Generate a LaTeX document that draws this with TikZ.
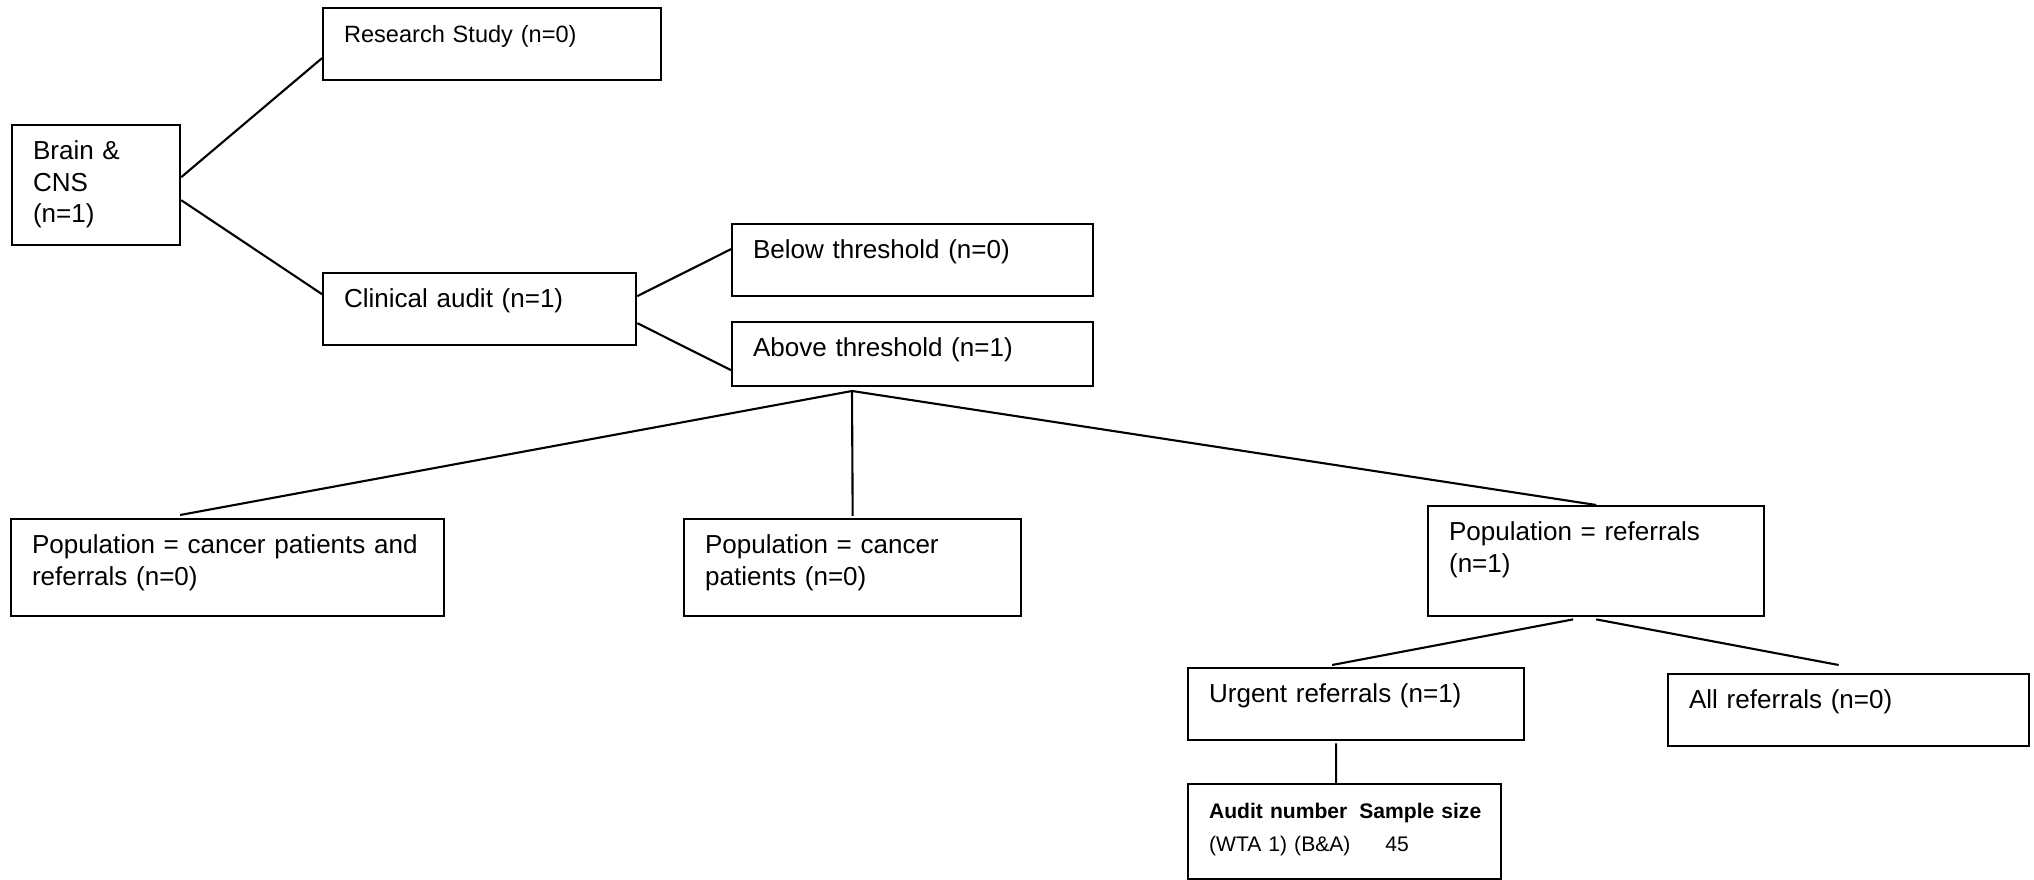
\documentclass[tikz,border=0pt]{standalone}
\usepackage{fontspec}
\setmainfont{Liberation Sans}
\usepackage{tikz}
\usetikzlibrary{positioning}

\begin{document}
\begin{tikzpicture}[x=0.01cm, y=-0.01cm,
	box/.style={draw, line width=0.6pt, anchor=north west, align=left, inner xsep=0.21cm, inner ysep=0.126cm, text height=0.22cm, font=\fontsize{7.4}{9}\selectfont},
	link/.style={line width=0.6pt}]
	\useasboundingbox (0,0) rectangle (2034,880);

	\node[box, text width=1.26cm, text depth=0.73cm] (brain) at (11,124) {Brain \&\\CNS\\(n=1)};
	\node[box, text width=2.96cm, text depth=0.25cm, font=\fontsize{6.7}{8.2}\selectfont] (research) at (322,7) {Research Study (n=0)};
	\node[box, text width=2.71cm, text depth=0.25cm] (clinical) at (322,272) {Clinical audit (n=1)};
	\node[box, text width=3.19cm, text depth=0.25cm] (below) at (731,223) {Below threshold (n=0)};
	\node[box, text width=3.19cm, text depth=0.17cm] (above) at (731,321) {Above threshold (n=1)};
	\node[box, text width=3.91cm, text depth=0.50cm] (popboth) at (10,518) {Population = cancer patients and\\referrals (n=0)};
	\node[box, text width=2.95cm, text depth=0.50cm] (popcancer) at (683,518) {Population = cancer\\patients (n=0)};
	\node[box, text width=2.94cm, text depth=0.63cm] (popref) at (1427,505) {Population = referrals\\(n=1)};
	\node[box, text width=2.94cm, text depth=0.25cm] (urgent) at (1187,667) {Urgent referrals (n=1)};
	\node[box, text width=3.19cm, text depth=0.25cm] (allref) at (1667,673) {All referrals (n=0)};
	\node[box, text width=2.71cm, text depth=0.48cm, font=\fontsize{6}{9.4}\selectfont] (audit) at (1187,783) {%
		\begin{tabular}[t]{@{}l@{\hspace{2.5pt}}l@{}}
			\textbf{Audit number} & \textbf{Sample size}\\
			(WTA 1) (B\&A) & \hspace{7.4pt}45
		\end{tabular}};

	\coordinate (split) at (852,391);

	\draw[link] ([yshift=0.08cm]brain.east) -- ([yshift=-0.14cm]research.west);
	\draw[link] ([yshift=-0.15cm]brain.east) -- ([yshift=0.15cm]clinical.west);
	\draw[link] ([yshift=0.13cm]clinical.east) -- ([yshift=0.11cm]below.west);
	\draw[link] ([yshift=-0.14cm]clinical.east) -- ([yshift=-0.16cm]above.west);
	\draw[link] (split) -- ([xshift=-0.475cm, yshift=0.03cm]popboth.north);
	\draw[link] (split) -- ([yshift=0.02cm]popcancer.north);
	\draw[link] (split) -- (popref.north);
	\draw[link] ([xshift=-0.23cm, yshift=-0.02cm]popref.south) -- ([xshift=-0.24cm, yshift=0.02cm]urgent.north);
	\draw[link] ([yshift=-0.02cm]popref.south) -- ([xshift=-0.1cm, yshift=0.08cm]allref.north);
	\draw[link] ([xshift=-0.2cm, yshift=-0.02cm]urgent.south) -- ([xshift=-0.085cm]audit.north);
\end{tikzpicture}
\end{document}
